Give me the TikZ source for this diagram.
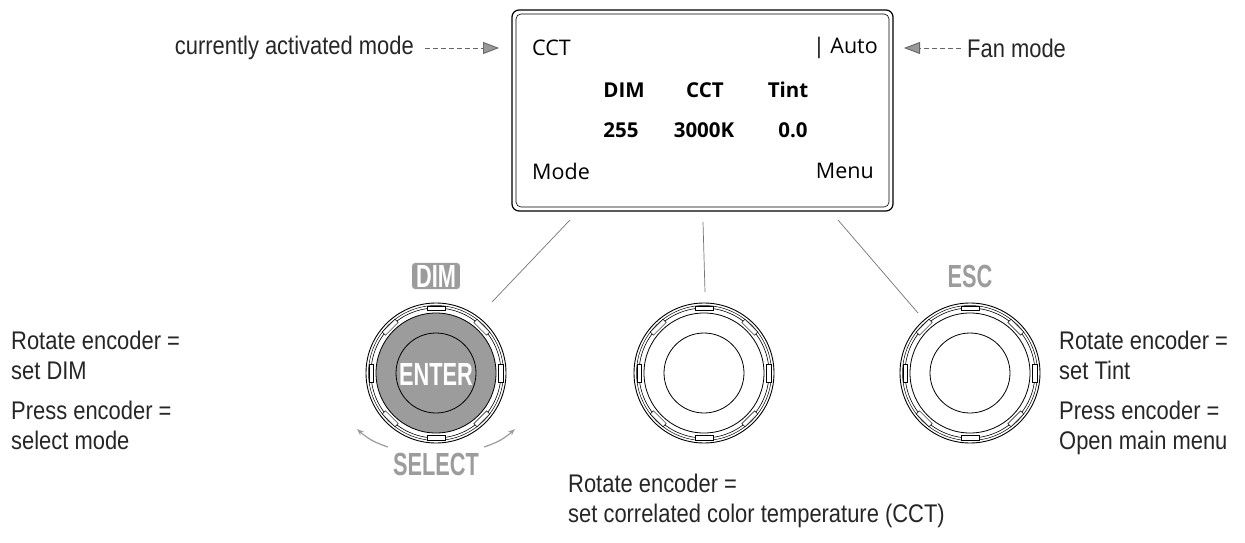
\documentclass[tikz,border=0pt]{standalone}
\usepackage{fontspec}
\setmainfont{Liberation Sans}[FakeStretch=0.86]
\newfontfamily\disp{Open Sans}
\newfontfamily\cond{Liberation Sans Bold}[FakeStretch=0.68]
\usetikzlibrary{arrows.meta,calc}
\definecolor{kg}{HTML}{9C9C9C}
\begin{document}
\begin{tikzpicture}[x=1pt,y=-1pt,
  lbl/.style={font=\fontsize{25.5}{30}\selectfont,text=black!85,inner sep=0},
  dt/.style={font=\disp\fontsize{21.5}{24}\selectfont,inner sep=0},
  db/.style={font=\disp\bfseries\fontsize{20.5}{24}\selectfont,inner sep=0},
  gl/.style={font=\cond\fontsize{32}{34}\selectfont,text=kg,inner sep=0},
  lead/.style={draw=black!55,line width=0.7pt},
  darr/.style={draw=black!60,dash pattern=on 5pt off 3pt,line width=0.9pt,-{Triangle[length=16pt,width=12pt,fill=black!40]}},
  rot/.style={draw=kg,line width=1.2pt,-{Stealth[length=7pt]}}]
\useasboundingbox (0,0) rectangle (1245,543);
% display
\draw[line width=1.2pt,rounded corners=7pt] (512,10) rectangle (893,211);
\draw[line width=0.6pt,rounded corners=5pt] (516,14) rectangle (889,207);
\node[dt,anchor=west] (cct) at (532,48) {CCT};
\node[dt,anchor=east] (auto) at (878,48) {| Auto};
\node[db] (h1) at (624,90) {DIM};
\node[db] (h2) at (705,90) {CCT};
\node[db] (h3) at (788,90) {Tint};
\node[db] (v1) at (621,130) {255};
\node[db] (v2) at (704,130) {3000K};
\node[db] (v3) at (793,130) {0.0};
\node[dt,anchor=west] (mode) at (532,171) {Mode};
\node[dt,anchor=east] (menu) at (874,171) {Menu};
% knobs
\foreach \n/\cx/\f in {k1/436/kg,k2/704/white,k3/970/white}{
  \coordinate (\n) at (\cx,373);
  \fill[\f] (\n) circle (60);
  \draw[line width=0.9pt] (\n) circle (70);
  \draw[line width=0.5pt] (\n) circle (67.5);
  \draw[line width=0.6pt] (\n) circle (65);
  \draw[line width=0.8pt] (\n) circle (60);
  \draw[line width=0.8pt] (\n) circle (40);
  \foreach \a in {0,45,...,315}{
    \draw[line width=0.5pt,fill=white,rotate around={\a-90:(\n)}] ($(\n)+(-9,-67)$) rectangle ($(\n)+(9,-62.5)$);
  }
}
\node[font=\cond\fontsize{32}{34}\selectfont,text=white,inner sep=0] (enter) at (436,374) {ENTER};
\node[gl,fill=kg,text=white,rounded corners=3pt,inner xsep=4pt,inner ysep=2pt] (dim) at (436,276) {DIM};
\node[gl] (esc) at (970,276) {ESC};
\node[gl] (sel) at (436,464) {SELECT};
\coordinate (ra1) at (388,447); \coordinate (ra2) at (357,429);
\coordinate (rb1) at (484,447); \coordinate (rb2) at (515,429);
\draw[rot] (ra1) to[bend left=12] (ra2);
\draw[rot] (rb1) to[bend right=12] (rb2);
% leaders
\coordinate (l1a) at (570,220); \coordinate (l1b) at (492,302);
\coordinate (l2a) at (703,222); \coordinate (l2b) at (705,292);
\coordinate (l3a) at (838,220); \coordinate (l3b) at (918,313);
\draw[lead] (l1a)--(l1b); \draw[lead] (l2a)--(l2b); \draw[lead] (l3a)--(l3b);
% labels
\node[lbl,anchor=east] (cam) at (414,48) {currently activated mode};
\node[lbl,anchor=west] (fan) at (967,48) {Fan mode};
\coordinate (a1) at (499,48); \coordinate (a2) at (904,48);
\draw[darr] ([xshift=11pt]cam.east) -- (a1);
\draw[darr] ([xshift=-6pt]fan.west) -- (a2);
\node[lbl,anchor=north west,align=left] (t1) at (11,331) {Rotate encoder =\\set DIM};
\node[lbl,anchor=north west,align=left] (t2) at (11,401) {Press encoder =\\select mode};
\node[lbl,anchor=north west,align=left] (t3) at (1059,331) {Rotate encoder =\\set Tint};
\node[lbl,anchor=north west,align=left] (t4) at (1059,401) {Press encoder =\\Open main menu};
\node[lbl,anchor=north west,align=left] (t5) at (568,474) {Rotate encoder =\\set correlated color temperature (CCT)};
\end{tikzpicture}
\end{document}
